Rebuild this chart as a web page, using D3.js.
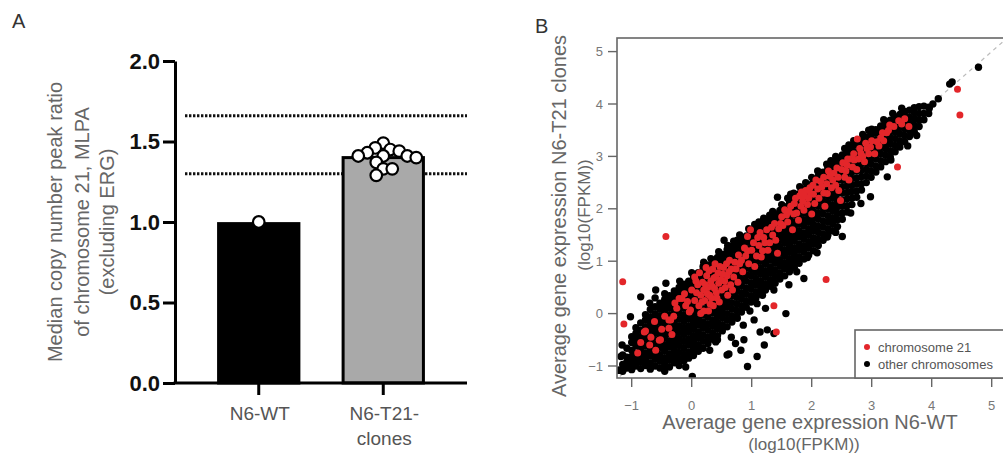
<!DOCTYPE html>
<html><head><meta charset="utf-8">
<script src="https://cdn.jsdelivr.net/npm/d3@7"></script>
<style>body{margin:0;background:#fff;} svg{display:block;font-family:"Liberation Sans",Arial,sans-serif;}</style>
</head><body><svg id="c" width="1003" height="466"></svg>
<script>
// ---------- Panel A data ----------
const groups = ["N6-WT", "N6-T21-clones"];
const groupLabels = [["N6-WT"], ["N6-T21-", "clones"]];
const barValues = [0.99, 1.40];
const barFills = ["#000000", "#a9a9a9"];
const wtPoints = [1.00];
const t21Points = [1.45, 1.37, 1.46, 1.40, 1.29, 1.44, 1.33, 1.33, 1.43, 1.41, 1.49, 1.41, 1.41];
const refLines = [1.66, 1.30];
const aTicks = [0, 0.5, 1.0, 1.5, 2.0];
const aTitle = ["Median copy number peak ratio", "of chromosome 21, MLPA", "(excluding ERG)"];

// ---------- Panel B data ----------
const bTicks = [-1, 0, 1, 2, 3, 4, 5];
// dense core of "other chromosomes": [x, [y values]] read column by column
const otherCore = [
[-1.21,[-1.08]],
[-1.15,[-1.1,-0.97,-0.79]],
[-1.08,[-1.04,-0.92,-0.83,-0.66]],
[-1.0,[-1.07,-0.95,-0.82,-0.7,-0.55,-0.44]],
[-0.93,[-1.0,-0.88,-0.76,-0.62,-0.5,-0.38,-0.27]],
[-0.85,[-1.05,-0.93,-0.8,-0.69,-0.57,-0.44,-0.32,-0.18]],
[-0.77,[-0.99,-0.87,-0.75,-0.62,-0.5,-0.38,-0.25,-0.12,-0.02]],
[-0.69,[-1.06,-0.94,-0.81,-0.69,-0.56,-0.44,-0.31,-0.19,-0.06,0.08]],
[-0.61,[-1.0,-0.87,-0.75,-0.62,-0.5,-0.37,-0.25,-0.12,0.0,0.13,0.3]],
[-0.53,[-1.04,-0.91,-0.79,-0.66,-0.54,-0.41,-0.29,-0.16,-0.04,0.09,0.2]],
[-0.45,[-0.97,-0.85,-0.72,-0.6,-0.47,-0.35,-0.22,-0.1,0.03,0.15,0.27,0.38]],
[-0.37,[-1.02,-0.89,-0.77,-0.64,-0.52,-0.39,-0.27,-0.14,-0.02,0.11,0.23,0.34]],
[-0.29,[-0.94,-0.82,-0.69,-0.57,-0.44,-0.32,-0.19,-0.07,0.06,0.18,0.31,0.43]],
[-0.21,[-0.99,-0.86,-0.74,-0.61,-0.49,-0.36,-0.24,-0.11,0.01,0.14,0.26,0.39,0.5]],
[-0.13,[-0.9,-0.78,-0.65,-0.53,-0.4,-0.28,-0.15,-0.03,0.1,0.22,0.35,0.47,0.56]],
[-0.05,[-0.85,-0.73,-0.6,-0.48,-0.35,-0.23,-0.1,0.02,0.15,0.27,0.4,0.52,0.62]],
[0.03,[-0.8,-0.67,-0.55,-0.42,-0.3,-0.17,-0.05,0.08,0.2,0.33,0.45,0.58,0.7]],
[0.11,[-0.72,-0.6,-0.47,-0.35,-0.22,-0.1,0.03,0.15,0.28,0.4,0.53,0.65,0.78]],
[0.19,[-0.66,-0.53,-0.41,-0.28,-0.16,-0.03,0.09,0.22,0.34,0.47,0.59,0.72,0.84,0.9]],
[0.27,[-0.57,-0.45,-0.32,-0.2,-0.07,0.05,0.18,0.3,0.43,0.55,0.68,0.8,0.93]],
[0.35,[-0.49,-0.37,-0.24,-0.12,0.01,0.13,0.26,0.38,0.51,0.63,0.76,0.88,1.0]],
[0.43,[-0.42,-0.29,-0.17,-0.04,0.08,0.21,0.33,0.46,0.58,0.71,0.83,0.96,1.07]],
[0.51,[-0.33,-0.21,-0.08,0.04,0.17,0.29,0.42,0.54,0.67,0.79,0.92,1.04,1.13]],
[0.59,[-0.25,-0.12,0.0,0.13,0.25,0.38,0.5,0.63,0.75,0.88,1.0,1.13,1.22]],
[0.67,[-0.16,-0.04,0.09,0.21,0.34,0.46,0.59,0.71,0.84,0.96,1.09,1.21,1.28]],
[0.75,[-0.06,0.06,0.19,0.31,0.44,0.56,0.69,0.81,0.94,1.06,1.19,1.31,1.36]],
[0.83,[0.03,0.15,0.28,0.4,0.53,0.65,0.78,0.9,1.03,1.15,1.28,1.4]],
[0.91,[0.12,0.24,0.37,0.49,0.62,0.74,0.87,0.99,1.12,1.24,1.37,1.48]],
[0.99,[0.22,0.34,0.47,0.59,0.72,0.84,0.97,1.09,1.22,1.34,1.47,1.55]],
[1.07,[0.3,0.42,0.55,0.67,0.8,0.92,1.05,1.17,1.3,1.42,1.55,1.62]],
[1.15,[0.37,0.5,0.62,0.75,0.87,1.0,1.12,1.25,1.37,1.5,1.62,1.68]],
[1.23,[0.45,0.57,0.7,0.82,0.95,1.07,1.2,1.32,1.45,1.57,1.7,1.75]],
[1.31,[0.52,0.64,0.77,0.89,1.02,1.14,1.27,1.39,1.52,1.64,1.77,1.83]],
[1.39,[0.58,0.71,0.83,0.96,1.08,1.21,1.33,1.46,1.58,1.71,1.83,1.9]],
[1.47,[0.66,0.78,0.91,1.03,1.16,1.28,1.41,1.53,1.66,1.78,1.91,1.97]],
[1.55,[0.72,0.85,0.97,1.1,1.22,1.35,1.47,1.6,1.72,1.85,1.97,2.04]],
[1.63,[0.8,0.92,1.05,1.17,1.3,1.42,1.55,1.67,1.8,1.92,2.05,2.11]],
[1.71,[0.88,1.0,1.13,1.25,1.38,1.5,1.63,1.75,1.88,2.0,2.13,2.2]],
[1.79,[0.96,1.08,1.21,1.33,1.46,1.58,1.71,1.83,1.96,2.08,2.21,2.29]],
[1.87,[1.04,1.17,1.29,1.42,1.54,1.67,1.79,1.92,2.04,2.17,2.29,2.38]],
[1.95,[1.12,1.25,1.37,1.5,1.62,1.75,1.87,2.0,2.12,2.25,2.37,2.46]],
[2.03,[1.2,1.33,1.45,1.58,1.7,1.83,1.95,2.08,2.2,2.33,2.45,2.54]],
[2.11,[1.3,1.42,1.55,1.67,1.8,1.92,2.05,2.17,2.3,2.42,2.55,2.62]],
[2.19,[1.4,1.52,1.65,1.77,1.9,2.02,2.15,2.27,2.4,2.52,2.65,2.7]],
[2.27,[1.5,1.62,1.75,1.87,2.0,2.12,2.25,2.37,2.5,2.62,2.75,2.79]],
[2.35,[1.58,1.71,1.83,1.96,2.08,2.21,2.33,2.46,2.58,2.71,2.83,2.88]],
[2.43,[1.66,1.79,1.91,2.04,2.16,2.29,2.41,2.54,2.66,2.79,2.91,2.96]],
[2.51,[1.8,1.92,2.05,2.17,2.3,2.42,2.55,2.67,2.8,2.92,3.03]],
[2.59,[1.94,2.06,2.19,2.31,2.44,2.56,2.69,2.81,2.94,3.06,3.1]],
[2.67,[2.08,2.2,2.33,2.45,2.58,2.7,2.83,2.95,3.08,3.18]],
[2.75,[2.22,2.34,2.47,2.59,2.72,2.84,2.97,3.09,3.22,3.26]],
[2.83,[2.36,2.48,2.61,2.73,2.86,2.98,3.11,3.23,3.32]],
[2.91,[2.5,2.62,2.75,2.87,3.0,3.12,3.25,3.37]],
[2.99,[2.6,2.72,2.85,2.97,3.1,3.22,3.35,3.44]],
[3.07,[2.7,2.82,2.95,3.07,3.2,3.32,3.45,3.51]],
[3.15,[2.8,2.92,3.05,3.17,3.3,3.42,3.55,3.58]],
[3.23,[2.9,3.02,3.15,3.27,3.4,3.52,3.63]],
[3.31,[2.99,3.11,3.24,3.36,3.49,3.61,3.69]],
[3.39,[3.09,3.21,3.34,3.46,3.59,3.71,3.76]],
[3.47,[3.18,3.3,3.43,3.55,3.68,3.8]],
[3.55,[3.28,3.4,3.53,3.65,3.78,3.86]],
[3.63,[3.38,3.5,3.63,3.75,3.88]],
[3.71,[3.47,3.59,3.72,3.84,3.93]],
[3.79,[3.57,3.69,3.82,3.95]],
[3.87,[3.7,3.82,3.96]],
[3.95,[3.82,3.94]]
];
// scattered "other chromosomes" genes outside the dense core
const otherScatter = [
[4.78,4.70],[4.34,4.42],[4.30,4.38],[4.11,4.10],[3.96,3.92],[4.02,4.00],
[1.43,2.22],[0.54,1.40],[0.76,1.40],[0.32,1.05],[-0.60,0.45],[-0.43,0.58],[-0.85,0.32],[-1.02,-0.06],[-0.70,0.20],
[2.26,1.46],[2.51,1.47],[2.09,1.16],[1.93,1.07],[1.87,0.67],
[1.57,0.00],[1.37,0.45],[1.23,0.10],[1.26,-0.31],[1.37,-0.38],[1.21,-0.60],[1.09,-0.82],[0.93,-1.01],[0.59,-0.79],
[0.73,-0.57],[0.86,-0.22],[1.04,-0.12],[1.09,0.19],[1.18,0.35],[0.87,-0.50],[0.43,-0.50],[0.76,-0.09],[0.40,-0.54],
[0.62,-0.77],[0.82,-0.70],[0.01,-1.20],[-1.18,-0.82],[-1.21,-1.08],[-1.16,-0.60],
[2.82,2.10],[2.98,2.23],[3.26,2.61],[3.32,2.93],[3.60,3.20],[3.75,3.40],
[0.97,0.05],[1.14,-0.35],[0.66,-0.45],[0.30,-0.70],[-0.10,-1.02],[-0.45,-1.10],[1.62,0.55],[1.75,0.80],[2.40,1.55],[2.65,1.92]
];
// genes along the upper edge of the cloud, drawn above the chromosome 21 layer's edge
const otherUpperEdge = [
[0.60,1.30],[0.70,1.38],[0.80,1.50],[0.95,1.62],[1.05,1.70],[1.20,1.82],[1.35,1.95],[1.50,2.08],[1.60,2.20],[1.70,2.30],
[1.80,2.42],[1.90,2.50],[2.00,2.60],[2.10,2.72],[2.25,2.85],[2.40,3.00],[2.55,3.15],[2.70,3.30],[2.85,3.42],[3.00,3.52],
[3.20,3.70],[3.35,3.82],[3.50,3.92],[0.45,1.18],[0.20,0.98],[0.00,0.78],[-0.20,0.62],[1.30,1.88],[1.12,1.75],[1.65,2.28],
[2.32,2.92],[2.62,3.22],[2.95,3.50]
];
// chromosome 21 genes
const chr21 = [
[-0.79,-0.35],[-0.77,-0.33],[-0.54,-0.51],[-0.52,-0.50],[-0.38,-0.12],[-0.38,-0.28],[-0.33,-0.40],[-0.35,-0.12],
[-0.21,0.29],[-0.16,0.29],[-0.07,0.23],[-0.04,0.03],[-0.02,0.07],[-0.60,-0.70],[-0.45,-0.05],[-0.25,0.10],[-0.62,-0.15],
[0.05,0.25],[0.08,0.40],[0.10,0.55],[0.12,0.15],[0.15,0.35],[0.18,0.60],[0.20,0.45],[0.22,0.25],[0.25,0.72],[0.27,0.50],
[0.30,0.35],[0.32,0.62],[0.35,0.85],[0.36,0.15],[0.38,0.48],[0.40,0.70],[0.42,0.30],[0.45,0.58],[0.47,0.90],[0.50,0.45],
[0.52,0.75],[0.55,0.62],[0.58,0.95],[0.60,0.35],[0.28,0.05],[0.15,0.00],[0.62,0.80],[0.65,0.55],[0.70,0.70],[0.05,0.70],
[0.33,0.30],[0.24,0.88],
[0.00,0.45],[0.07,0.62],[0.13,0.78],[0.17,0.22],[0.20,0.05],[0.23,0.55],[0.26,0.38],[0.29,0.82],[0.31,0.18],[0.34,0.52],
[0.37,0.68],[0.39,0.95],[0.41,0.40],[0.44,0.78],[0.46,0.22],[0.49,0.65],[0.53,0.88],[0.56,0.50],[0.59,0.72],[0.63,1.02],
[0.66,0.85],[0.68,0.45],[0.74,0.85],[0.77,0.60],[0.80,0.95],[-0.10,0.15],[-0.12,0.38],[-0.28,0.20],[-0.30,-0.05],
[-0.50,-0.30],[-0.68,-0.45],[-0.70,-0.60],[-0.85,-0.55],[-0.90,-0.75],
[0.72,0.98],[0.78,1.12],[0.83,1.02],[0.88,1.25],[0.93,1.47],[0.95,0.95],[1.00,1.21],[1.03,1.35],[1.08,1.10],[1.12,1.30],
[1.16,1.08],[1.20,1.45],[1.25,1.60],[1.27,1.21],[1.30,1.35],[1.35,1.50],[1.38,1.72],[1.43,1.15],[1.45,1.62],[0.85,0.80],
[1.05,0.90],[0.98,1.60],[0.90,1.10],[0.93,1.20],[1.10,1.45],[1.14,1.55],[1.18,1.20],[1.22,1.35],[1.33,1.65],[1.40,1.40],
[1.48,1.72],
[1.50,1.85],[1.55,1.98],[1.60,1.75],[1.65,2.05],[1.71,2.10],[1.75,1.92],[1.80,2.25],[1.85,2.15],[1.87,1.97],[1.90,2.35],
[1.95,2.20],[1.98,2.29],[2.02,2.45],[2.05,2.10],[2.10,2.38],[2.15,2.52],[2.20,2.30],[2.26,2.29],[2.30,2.62],[2.37,2.68],
[2.40,2.45],[2.48,2.16],[2.50,2.75],[2.55,2.60],[2.59,2.83],[2.65,2.95],[2.71,2.93],[2.75,2.75],[2.82,3.06],[2.88,2.90],
[2.92,3.15],[2.98,3.18],[3.05,3.05],[3.09,3.28],[3.15,3.35],[1.68,1.60],[1.78,1.78],[2.00,1.90],[2.22,2.05],[2.45,2.35],
[2.62,2.55],
[1.52,1.68],[1.58,1.88],[1.62,1.95],[1.70,1.90],[1.73,2.20],[1.82,2.05],[1.83,2.32],[1.88,2.25],[1.93,2.08],[1.97,2.40],
[2.03,2.28],[2.07,2.55],[2.12,2.20],[2.17,2.42],[2.20,2.60],[2.25,2.48],[2.28,2.72],[2.33,2.40],[2.35,2.55],[2.42,2.78],
[2.44,2.60],[2.52,2.88],[2.57,2.72],[2.60,2.95],[2.68,2.80],[2.70,3.05],[2.78,2.95],[2.80,3.15],[2.85,3.00],[2.90,3.25],
[2.95,3.05],[3.00,3.30],[3.12,3.20],[3.18,3.45],[3.20,3.30],[3.28,3.50],[3.30,3.60],[3.45,3.68],[3.55,3.72],
[3.37,3.57],[3.62,3.57],[3.50,3.62],[3.25,3.45],
[2.76,3.33],[3.43,2.80],[4.43,4.28],[4.47,3.79],[-0.43,1.47],[-1.15,0.61],[-1.13,-0.20],[2.24,0.65],[1.37,0.15],[1.41,-0.35]
];
const legendItems = [["chromosome 21", "#e3262b"], ["other chromosomes", "#000000"]];

const svg = d3.select("#c");
const defs = svg.append("defs");
defs.append("filter").attr("id", "soft").attr("x", "-5%").attr("y", "-5%").attr("width", "110%").attr("height", "110%")
  .append("feGaussianBlur").attr("stdDeviation", 0.55);

// =============== Panel A ===============
const yA = d3.scaleLinear().domain([0, 2]).range([383, 61]);
const xA = d3.scaleBand().domain(groups).range([175, 467]).paddingInner(0.355).paddingOuter(0.35);
const gA = svg.append("g");

svg.append("text").attr("x", 12).attr("y", 28).attr("font-size", 20).attr("fill", "#333").text("A");

aTitle.forEach((t, i) => {
  svg.append("text")
    .attr("transform", `translate(${[55, 82, 107][i]},222) rotate(-90)`)
    .attr("text-anchor", "middle").attr("dy", "0.35em")
    .attr("font-size", 20).attr("fill", "#666").text(t);
});

gA.selectAll("line.ref").data(refLines).join("line")
  .attr("x1", 185).attr("x2", 467)
  .attr("y1", d => yA(d)).attr("y2", d => yA(d))
  .attr("stroke", "#111").attr("stroke-width", 3).attr("stroke-dasharray", "2.4,1.6");

gA.selectAll("rect.bar").data(groups).join("rect")
  .attr("x", d => xA(d)).attr("width", xA.bandwidth())
  .attr("y", (d, i) => yA(barValues[i])).attr("height", (d, i) => yA(0) - yA(barValues[i]))
  .attr("fill", (d, i) => barFills[i]).attr("stroke", "#000").attr("stroke-width", 3);

const axL = gA.append("g").attr("transform", "translate(175,0)")
  .call(d3.axisLeft(yA).tickValues(aTicks).tickFormat(d3.format(".1f")).tickSize(12).tickSizeOuter(0).tickPadding(3));
axL.select(".domain").attr("stroke-width", 3).attr("stroke", "#000");
axL.selectAll(".tick line").attr("stroke-width", 3).attr("stroke", "#000");
axL.selectAll(".tick text").attr("font-size", 22).attr("font-weight", "bold").attr("fill", "#111")
  .attr("font-family", "'Liberation Sans',Arial,sans-serif");

const axB = gA.append("g").attr("transform", "translate(0,383)")
  .call(d3.axisBottom(xA).tickSize(12).tickSizeOuter(0).tickFormat(""));
axB.select(".domain").attr("stroke-width", 3).attr("stroke", "#000").attr("d", "M173.5,0H467");
axB.selectAll(".tick line").attr("stroke-width", 3).attr("stroke", "#000");

groups.forEach((g, i) => {
  groupLabels[i].forEach((t, j) => {
    gA.append("text").attr("x", xA(g) + xA.bandwidth() / 2 + 1).attr("y", 413 + j * 25)
      .attr("dy", "0.35em").attr("text-anchor", "middle").attr("font-size", 19).attr("fill", "#555").text(t);
  });
});

const pr = 5.8;
const cWT = xA(groups[0]) + xA.bandwidth() / 2;
gA.selectAll("circle.wt").data(wtPoints).join("circle")
  .attr("cx", cWT).attr("cy", d => yA(d)).attr("r", pr)
  .attr("fill", "#fff").attr("stroke", "#000").attr("stroke-width", 2.2);

// beeswarm layout of the clone points (overlap allowed, as in the original)
const cT = xA(groups[1]) + xA.bandwidth() / 2;
const minDist = 9;
const placed = [];
t21Points.map((v, i) => ({ v, i })).sort((a, b) => b.v - a.v).forEach(p => {
  const py = yA(p.v);
  let px = cT;
  for (let k = 0; k < 400; k++) {
    const off = (k % 2 === 0 ? 1 : -1) * Math.ceil(k / 2);
    const cx = cT + off;
    if (placed.every(q => Math.hypot(q.x - cx, q.y - py) >= minDist)) { px = cx; break; }
  }
  placed.push({ x: px, y: py, v: p.v });
});
gA.selectAll("circle.t21").data(placed).join("circle")
  .attr("cx", d => d.x).attr("cy", d => d.y).attr("r", pr)
  .attr("fill", "#fff").attr("stroke", "#000").attr("stroke-width", 2.2);

// =============== Panel B ===============
const xB = d3.scaleLinear().domain([-1, 5]).range([631.7, 991.7]);
const yB = d3.scaleLinear().domain([-1, 5]).range([366, 51.6]);
const gB = svg.append("g");
const frame = { x: 617, y: 38, w: 400, h: 340 };

defs.append("clipPath").attr("id", "frameClip")
  .append("rect").attr("x", frame.x).attr("y", frame.y).attr("width", frame.w).attr("height", frame.h);

svg.append("text").attr("x", 535).attr("y", 33).attr("font-size", 20).attr("fill", "#333").text("B");

const plot = gB.append("g").attr("clip-path", "url(#frameClip)");
plot.append("line")
  .attr("x1", xB(-1.4)).attr("y1", yB(-1.4)).attr("x2", xB(5.4)).attr("y2", yB(5.4))
  .attr("stroke", "#bbb").attr("stroke-width", 1.2).attr("stroke-dasharray", "4,4");

const others = otherCore.flatMap(([x, ys]) => ys.map(y => [x, y])).concat(otherScatter, otherUpperEdge);
const dotR = 3.7;
const pts = plot.append("g").attr("filter", "url(#soft)");
pts.selectAll("circle.oth").data(others).join("circle")
  .attr("cx", d => xB(d[0])).attr("cy", d => yB(d[1])).attr("r", dotR).attr("fill", "#000");
pts.selectAll("circle.c21").data(chr21).join("circle")
  .attr("cx", d => xB(d[0])).attr("cy", d => yB(d[1])).attr("r", dotR - 0.2).attr("fill", "#e3262b");

gB.append("rect").attr("x", frame.x).attr("y", frame.y).attr("width", frame.w).attr("height", frame.h)
  .attr("fill", "none").attr("stroke", "#666").attr("stroke-width", 1.6);

gB.selectAll("line.xt").data(bTicks).join("line")
  .attr("x1", d => xB(d)).attr("x2", d => xB(d)).attr("y1", frame.y + frame.h).attr("y2", frame.y + frame.h + 9)
  .attr("stroke", "#666").attr("stroke-width", 1.4);
gB.selectAll("text.xt").data(bTicks).join("text")
  .attr("x", d => xB(d)).attr("y", 405).attr("dy", "0.35em").attr("text-anchor", "middle")
  .attr("font-size", 13).attr("fill", "#777").text(d => d < 0 ? "\u2212" + Math.abs(d) : d);
gB.selectAll("line.yt").data(bTicks).join("line")
  .attr("x1", frame.x - 9).attr("x2", frame.x).attr("y1", d => yB(d)).attr("y2", d => yB(d))
  .attr("stroke", "#666").attr("stroke-width", 1.4);
gB.selectAll("text.yt").data(bTicks).join("text")
  .attr("x", 603).attr("y", d => yB(d)).attr("dy", "0.35em").attr("text-anchor", "end")
  .attr("font-size", 13).attr("fill", "#777").text(d => d < 0 ? "\u2212" + Math.abs(d) : d);

gB.append("text").attr("x", 810).attr("y", 422).attr("dy", "0.35em").attr("text-anchor", "middle")
  .attr("font-size", 20).attr("fill", "#666").text("Average gene expression N6-WT");
gB.append("text").attr("x", 804).attr("y", 444).attr("dy", "0.35em").attr("text-anchor", "middle")
  .attr("font-size", 17).attr("fill", "#666").text("(log10(FPKM))");
gB.append("text").attr("transform", "translate(559,216) rotate(-90)").attr("dy", "0.35em").attr("text-anchor", "middle")
  .attr("font-size", 20).attr("fill", "#666").text("Average gene expression N6-T21 clones");
gB.append("text").attr("transform", "translate(584,215) rotate(-90)").attr("dy", "0.35em").attr("text-anchor", "middle")
  .attr("font-size", 17).attr("fill", "#666").text("(log10(FPKM))");

const lg = gB.append("g");
lg.append("rect").attr("x", 855).attr("y", 330).attr("width", 160).attr("height", 48)
  .attr("fill", "#fff").attr("stroke", "#666").attr("stroke-width", 1.6);
legendItems.forEach(([t, c], i) => {
  lg.append("circle").attr("cx", 867).attr("cy", 347 + i * 17).attr("r", 3).attr("fill", c);
  lg.append("text").attr("x", 878).attr("y", 347 + i * 17).attr("dy", "0.35em")
    .attr("font-size", 13).attr("fill", "#555").text(t);
});
</script></body></html>
